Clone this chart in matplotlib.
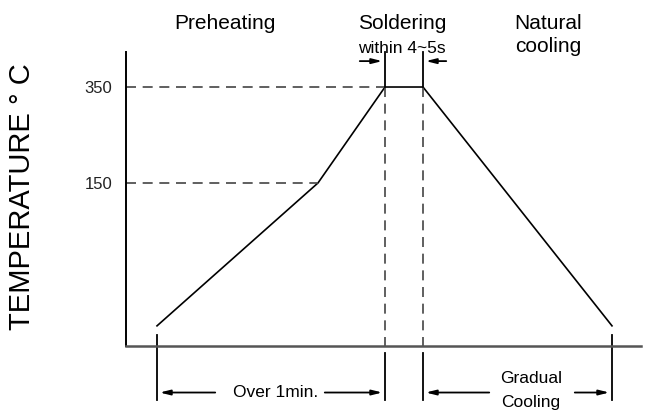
import matplotlib.pyplot as plt
from matplotlib.transforms import blended_transform_factory

plt.rcParams['font.family'] = ['Liberation Sans', 'DejaVu Sans']

# reflow profile (schematic): time in arbitrary units, temperature in deg C
profile_time = [31, 192, 259, 297, 486]
profile_temp = [-148, 150, 350, 350, -148]
tick_temps = [350, 150]
tick_labels = ['350', '150']
phase_labels = ['Preheating', 'Soldering', 'Natural\ncooling']
phase_x = [99, 276, 422]

fig = plt.figure(figsize=(6.51, 4.13), dpi=100)
ax = fig.add_axes([126 / 651, 1 - 346 / 413, 515 / 651, 294 / 413])
ax.set_xlim(0, 515)
ax.set_ylim(-190, 423)

for s in ['top', 'right']:
    ax.spines[s].set_visible(False)
ax.spines['left'].set_linewidth(1.4)
ax.spines['left'].set_color('black')
ax.spines['bottom'].set_linewidth(1.8)
ax.spines['bottom'].set_color('#555555')
ax.set_xticks([])
ax.set_yticks(tick_temps)
ax.set_yticklabels(tick_labels, fontsize=12, color='#222222')
ax.tick_params(axis='y', length=0, pad=10)

# profile curve
ax.plot(profile_time, profile_temp, color='black', lw=1.2, clip_on=False)

# dashed guides
dash = dict(color='#444444', lw=1.2, ls=(0, (6, 4)), clip_on=False)
t0, t1, t2, t3, t4 = profile_time
ax.plot([0, t2], [350, 350], **dash)
ax.plot([0, t1], [150, 150], **dash)
ax.plot([t2, t2], [350, -190], **dash)
ax.plot([t3, t3], [350, -190], **dash)

solid = dict(color='black', lw=1.3, clip_on=False)
# extension lines below axis
ax.plot([t0, t0], [-167, -302], **solid)
ax.plot([t2, t2], [-204, -302], **solid)
ax.plot([t3, t3], [-204, -302], **solid)
ax.plot([t4, t4], [-167, -302], **solid)
# extension lines above plateau
ax.plot([t2, t2], [350, 423], **solid)
ax.plot([t3, t3], [350, 423], **solid)

arrow = dict(arrowstyle='-|>,head_length=0.6,head_width=0.15', color='black', lw=1.3)


def arr(x_from, x_to, y):
    ax.annotate('', xy=(x_to, y), xytext=(x_from, y), arrowprops=arrow,
                annotation_clip=False)


arr(92, t0, -287)
arr(196, t2, -287)
arr(366, t3, -287)
arr(446, t4, -287)
arr(231, t2, 404)
arr(323, t3, 404)

ax.text((t0 + t2) / 2 + 5, -287, 'Over 1min.', ha='center', va='center', fontsize=12.5)
ax.text(405, -258, 'Gradual', ha='center', va='center', fontsize=12.5)
ax.text(405, -308, 'Cooling', ha='center', va='center', fontsize=12.5)
ax.text(276, 431, 'within 4~5s', ha='center', va='center', fontsize=12.5)

for lab, x in zip(phase_labels, phase_x):
    ax.text(x, 503, lab, ha='center', va='top', fontsize=15, linespacing=1.3)

fig.text(22 / 651, 1 - 197 / 413, 'TEMPERATURE \u00b0 C', rotation=90,
         ha='center', va='center', fontsize=21)

fig.savefig('out.png', dpi=100)
